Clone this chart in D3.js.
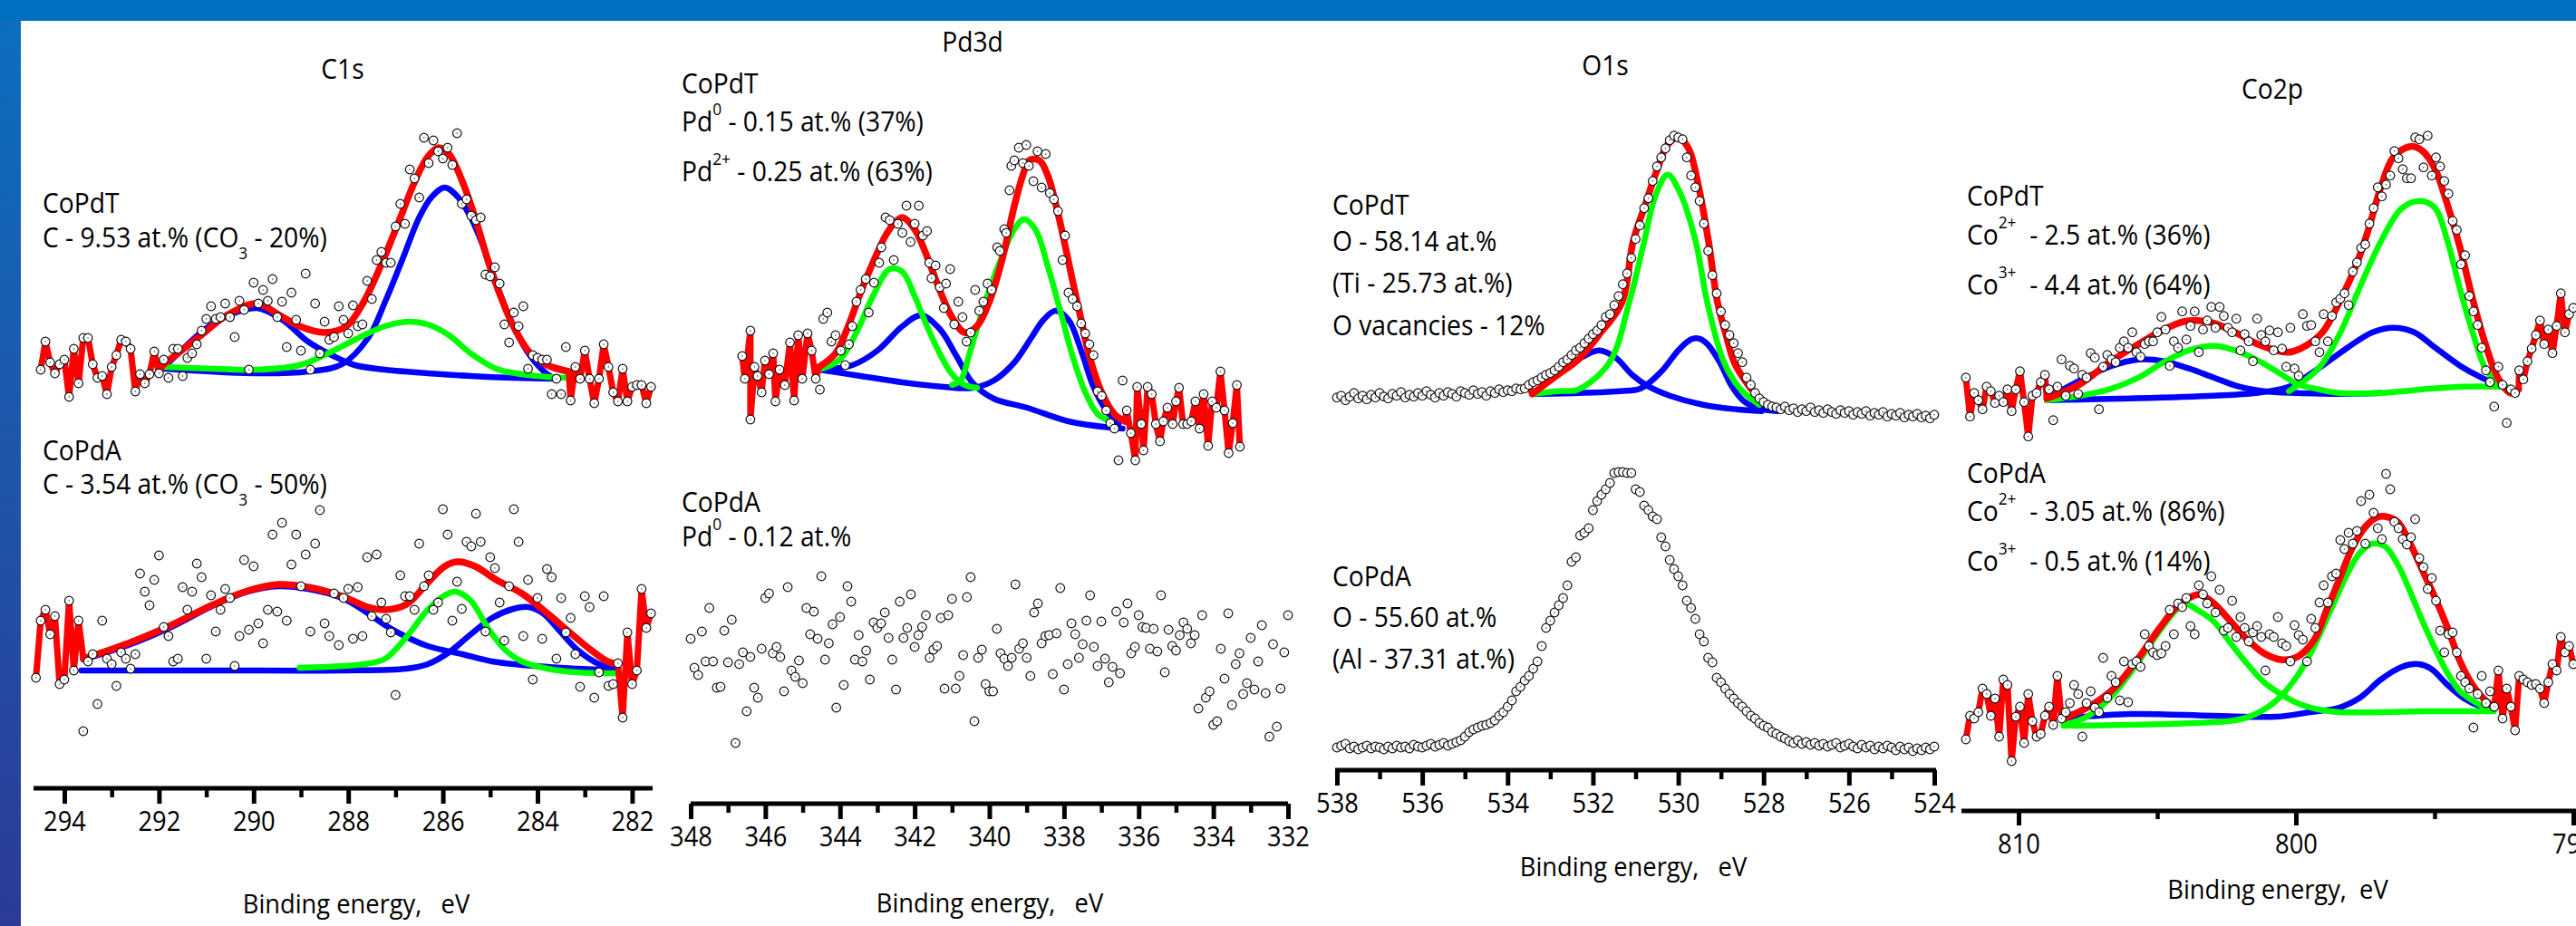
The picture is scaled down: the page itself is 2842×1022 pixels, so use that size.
<!DOCTYPE html>
<html>
<head>
<meta charset="utf-8">
<script src="https://cdn.jsdelivr.net/npm/d3@7"></script>
<style>
  body { margin: 0; background: #fff; }
  svg { display: block; }
  text { font-family: 'Open Sans', sans-serif; white-space: pre; fill: #000; }
</style>
</head>
<body>
<script>
// ---------------- data (binding energy in eV, intensity in arbitrary units) ----------------

// C1s, CoPdT
var c1sT_E = d3.range(294.5, 281.55, -0.1);
var c1sT_I = [32,63,40,28,38,43,2,55,17,67, 67,38,23,25,5,35,48,65,63,55, 8,27,17,27,52,28,43,23,55,55,
  25,45,50,60,75,88,102,88,90,105, 90,68,108,98,32,128,105,120,108,132, 90,107,57,117,87,53,138,32,105,50,
  85,65,68,102,87,72,103,80,82,130, 110,153,162,150,150,190,215,193,253,243, 222,288,260,285,273,265,277,258,293,215,
  220,202,197,200,137,135,145,127,82,62, 95,80,102,33,48,45,43,43,5,22, 5,57,-2,35,22,53,22,-5,22,60,
  35,7,-3,33,-3,13,15,15,-5,13];
var c1sT_fit = [[291.92,37],[291.11,70],[290.57,92],[289.93,105],[289.48,93],[289.03,80],[288.49,73],[288.04,80],[287.67,107],[287.31,147],[286.95,193],[286.59,240],[286.32,267],[286.09,277],[285.87,270],[285.59,240],[285.32,200],[285.05,153],[284.78,113],[284.51,80],[284.15,50],[283.79,37],[283.34,30]];
var c1sT_blue1 = [[291.88,35],[291.02,77],[290.48,93],[289.93,100],[289.39,87],[288.85,63],[288.31,47],[287.86,37],[287.22,32],[286.32,28],[285.41,25],[284.51,23],[283.61,22]];
var c1sT_blue2 = [[291.88,33],[289.93,28],[288.85,30],[288.13,38],[287.58,67],[287.22,107],[286.86,153],[286.50,200],[286.23,223],[285.96,233],[285.69,223],[285.41,200],[285.14,167],[284.87,127],[284.51,80],[284.15,47],[283.79,27],[283.61,22]];
var c1sT_green = [[291.88,35],[290.84,33],[289.93,32],[289.03,37],[288.31,53],[287.67,70],[287.22,80],[286.73,85],[286.32,82],[285.87,70],[285.41,50],[284.87,33],[284.33,27],[283.79,24],[283.34,23]];

// C1s, CoPdA
var c1sA_E = d3.range(294.6, 281.55, -0.1);
var c1sA_I = [22,85,97,70,90,15,20,107,30,85, -37,40,48,-7,85,43,37,13,50,43, 32,48,137,117,102,130,157,78,68,40,
  43,122,97,117,148,133,43,113,73,97, 120,110,35,68,152,75,145,82,60,97, 180,95,193,85,147,180,123,158,73,170,
  207,82,68,115,58,110,120,65,122,68, 155,90,158,105,87,72,3,135,112,112, 97,170,123,135,97,105,208,180,85,128,
  98,172,167,203,172,73,155,143,105,63, 123,208,172,68,130,20,110,65,142,133, 43,110,72,88,48,12,112,100,0,28,
  112,13,15,38,-22,72,15,30,120,77, 93];
var c1sA_fit = [[293.60,43],[292.65,60],[291.74,80],[290.84,103],[290.12,118],[289.48,125],[288.85,122],[288.13,112],[287.58,100],[287.22,97],[286.77,103],[286.32,127],[285.96,145],[285.69,150],[285.32,145],[284.87,130],[284.33,115],[283.79,93],[283.34,73],[282.88,53],[282.52,40],[282.30,37]];
var c1sA_blue1 = [[293.60,42],[292.65,58],[291.74,78],[290.84,102],[290.12,117],[289.48,123],[288.85,120],[288.13,110],[287.58,93],[287.22,80],[286.77,67],[286.32,57],[285.59,48],[284.96,40],[284.06,35],[283.16,32],[282.34,30]];
var c1sA_blue2 = [[293.64,30],[290.84,30],[288.13,30],[286.77,32],[286.32,37],[285.87,50],[285.41,70],[284.96,88],[284.51,98],[284.19,100],[283.88,93],[283.52,73],[283.16,53],[282.70,37],[282.34,32]];
var c1sA_green = [[289.03,33],[287.67,37],[287.22,43],[286.77,67],[286.32,97],[285.96,113],[285.73,117],[285.41,107],[285.05,77],[284.69,53],[284.33,40],[283.79,32],[283.16,28],[282.34,27]];

// Pd3d, CoPdT
var pdT_E = [346.62,346.55,346.40,346.40,346.29,346.21,346.10,346.01,345.90,345.79, 345.73,345.62,345.48,345.34,345.23,345.12,345.01,344.87,344.76,344.65,
  344.54,344.45,344.34,344.23,344.12,343.98,343.86,343.76,343.67,343.56, 343.45,343.31,343.23,343.09,342.95,342.89,342.78,342.67,342.56,342.45,
  342.33,342.22,342.11,342.00,341.89,341.78,341.67,341.61,341.55,341.44, 341.33,341.22,341.16,341.05,340.94,340.83,340.72,340.61,340.50,340.38,
  340.27,340.16,340.05,339.94,339.79,339.72,339.60,339.55,339.46,339.41, 339.33,339.21,339.10,339.01,338.94,338.82,338.71,338.60,338.49,338.38,
  338.27,338.16,338.04,337.97,337.88,337.77,337.65,337.54,337.43,337.32, 337.21,337.10,336.99,336.87,336.76,336.65,336.54,336.43,336.32,336.21,
  336.09,336.04,335.93,335.87,335.76,335.65,335.54,335.43,335.34,335.23, 335.09,335.00,334.92,334.81,334.70,334.59,334.48,334.37,334.26,334.14,
  334.03,333.92,333.81,333.70,333.59,333.48,333.37,333.29];
var pdT_I = [87,62,115,17,75,65,47,82,67,90, 37,72,55,102,38,110,62,112,93,62, 50,128,135,103,110,93,77,100,120,147,
  160,172,135,168,190,207,240,237,193,233, 223,253,213,233,253,220,225,190,173,187, 163,140,167,183,122,147,130,103,113,160,
  137,147,167,160,207,203,227,223,270,297, 303,317,300,320,297,280,313,273,310,267, 260,247,193,220,157,150,142,123,112,100,
  88,48,43,27,13,7,-28,60,27,2, -28,53,12,-17,53,45,12,-7,15,30, 12,37,52,12,12,15,37,7,45,-12,
  37,30,70,27,-20,13,55,-13];
var pdT_fit = [[344.56,75],[344.12,90],[343.78,120],[343.45,157],[343.12,190],[342.78,220],[342.56,233],[342.33,240],[342.00,227],[341.67,197],[341.33,160],[341.00,130],[340.66,113],[340.33,120],[340.00,147],[339.66,193],[339.33,253],[339.10,287],[338.94,303],[338.66,303],[338.44,287],[338.21,253],[337.99,213],[337.77,170],[337.54,127],[337.32,87],[336.99,47],[336.65,23],[336.37,15]];
var pdT_green1 = [[344.56,72],[344.01,83],[343.56,113],[343.12,153],[342.67,183],[342.33,180],[342.00,153],[341.67,120],[341.33,90],[341.00,67],[340.66,55],[340.33,52]];
var pdT_green2 = [[341.00,55],[340.77,60],[340.55,87],[340.11,147],[339.66,197],[339.33,227],[339.07,238],[338.77,227],[338.44,187],[338.10,137],[337.77,87],[337.43,47],[337.10,23],[336.76,15]];
var pdT_blue1 = [[344.56,72],[343.67,77],[343.00,93],[342.33,120],[341.83,132],[341.33,117],[340.88,87],[340.44,57],[339.88,40],[338.99,30],[337.88,15],[336.76,8],[336.43,7]];
var pdT_blue2 = [[344.56,72],[343.45,65],[342.33,58],[341.22,53],[340.44,52],[339.88,60],[339.33,80],[338.88,107],[338.55,127],[338.23,137],[337.88,127],[337.54,93],[337.21,53],[336.87,27],[336.54,12]];

// Pd3d, CoPdA
var pdA_E = d3.range(348, 331.95, -0.1);
var pdA_I = [128,96,88,136,103,162,103,74,75, 137,102,149,13,100,113,48,108,74,63, 117,173,178,112,119,108,70,185,93,86,
  104,79,162,133,158,128,197,105,123,144, 52,152,77,186,169,105,132,103,115,83, 146,140,145,157,129,105,72,169,129,140,
  177,119,132,141,154,107,116,120,151,73, 154,172,73,87,110,174,196,37,107,116, 78,70,70,139,112,106,98,107,188,117,
  123,107,87,157,167,123,131,132,89,134, 184,72,100,145,133,107,122,148,176,119, 98,147,106,80,97,158,90,146,167,112,
  119,154,141,140,117,139,114,176,91,138, 120,115,132,146,139,123,132,51,154,63, 70,33,37,117,84,156,55,100,112,67,
  79,129,72,103,143,68,20,122,31,73, 113,154];

// O1s, CoPdT
var o1sT_E = d3.range(538, 523.95, -0.1);
var o1sT_I = [28,30,25,29,33,27,30,26,31,28, 33,29,27,32,30,34,28,31,29,33, 30,35,31,28,33,30,34,32,29,35,
  33,31,36,32,34,30,35,33,37,34, 36,35,38,
  37,38,42,45,47,50,53,55,58,62, 67,70,75,80,83,88,93,98,102,108, 117,120,130,140,153,165,182,203,218,237,
  248,267,283,293,303,312,317,315,313,293, 273,260,245,220,190,163,143,123,108,97, 88,77,67,50,42,33,27,23,20,18,
  17,15,18,14,16,12,15,13,17,12, 14,11,15,12,10,14,11,13,9,12, 10,13,8,11,9,12,7,10,8,11, 6,9,7,10,6,8,5,9];
var o1sT_fit = [[533.42,32],[532.83,53],[532.34,70],[531.86,97],[531.32,133],[531.06,200],[530.78,240],[530.49,280],[530.25,307],[530.00,315],[529.76,303],[529.52,260],[529.29,200],[529.08,133],[528.88,97],[528.69,67],[528.44,47],[528.15,30],[527.86,20],[527.57,16]];
var o1sT_green = [[533.42,32],[532.83,35],[532.34,37],[531.61,67],[531.15,133],[530.80,200],[530.54,250],[530.25,274],[529.95,253],[529.59,200],[529.32,133],[528.93,67],[528.54,37],[528.10,20]];
var o1sT_blue1 = [[533.42,32],[532.83,53],[532.34,70],[531.86,80],[531.47,72],[531.08,53],[530.69,40],[530.20,30],[529.42,20],[528.64,15],[528.05,13]];
var o1sT_blue2 = [[533.42,32],[532.34,33],[531.37,35],[530.88,38],[530.39,57],[530.00,80],[529.71,92],[529.52,93],[529.32,87],[529.03,67],[528.74,40],[528.44,23],[528.05,15],[527.67,13]];

// O1s, CoPdA
var o1sA_E = d3.range(538, 523.95, -0.1);
var o1sA_I = [8,10,12,7,9,6,8,10,7,9, 8,6,9,7,10,8,9,7,11,9, 8,10,12,9,11,13,10,12,14,16,
  20,25,28,30,32,33,35,38,43,47, 53,60,70,75,82,87,95,103,120,140, 148,157,165,173,187,213,218,242,245,250,
  270,280,287,293,300,311,312,312,311,311, 293,290,275,270,263,260,240,230,215,205, 197,187,170,162,150,133,125,107,102,85,
  80,73,67,62,57,53,48,43,40,35, 32,30,25,23,20,18,
  15,13,16,12,14,11,13,10,12,9, 11,13,8,10,12,9,7,11,8,10, 6,9,7,10,8,5,9,6,8,4, 7,5,8,6,9];

// Co2p, CoPdT
var coT_E = d3.range(811.9, 789.95, -0.15);
var coT_I = [50,7,33,25,15,40,35,22,30,23, 37,13,37,57,23,-15,30,33,45,53, 37,3,40,70,30,63,60,32,53,50,
  77,72,15,62,75,70,67,83,90,83, 100,78,73,87,90,90,100,117,103,63, 90,83,123,92,107,123,78,103,113,128,
  105,128,118,105,100,115,80,98,90,68, 115,97,90,102,80,100,82,62,105,60, 52,120,107,108,90,78,120,90,118,133,
  137,143,130,167,177,193,197,220,237,260, 250,263,273,300,292,280,270,270,315,313, 282,317,273,293,283,267,253,223,213,175,
  185,140,123,108,83,58,45,18,62,42, 0,37,33,58,48,68,82,97,113,87, 103,77,107,143,100,120,127];
var coT_fit = [[808.98,27],[807.77,43],[806.72,67],[805.67,87],[804.76,103],[804.01,112],[803.56,113],[802.96,110],[802.20,100],[801.45,88],[800.70,80],[800.25,78],[799.65,85],[799.04,100],[798.44,133],[797.84,173],[797.39,213],[796.94,260],[796.49,293],[795.88,305],[795.43,300],[794.98,280],[794.53,240],[794.08,193],[793.63,137],[793.17,87],[792.72,50],[792.27,33],[791.97,37]];
var coT_green1 = [[808.98,25],[807.77,30],[806.72,37],[805.67,50],[804.76,67],[803.86,80],[802.96,85],[802.20,80],[801.45,70],[800.70,57],[799.95,43],[799.19,37],[798.44,33],[796.94,33],[795.43,37],[793.93,40],[792.42,40]];
var coT_green2 = [[800.25,35],[799.19,60],[798.44,97],[797.69,150],[796.94,200],[796.18,237],[795.51,245],[794.98,237],[794.53,200],[794.08,147],[793.63,100],[793.17,60],[792.72,43],[792.42,40]];
var coT_blue1 = [[808.98,27],[807.77,47],[806.72,62],[805.67,70],[804.76,68],[803.86,60],[802.96,50],[802.05,40],[801.15,35],[799.95,33],[798.44,32],[796.94,33]];
var coT_blue2 = [[808.98,25],[805.97,27],[802.96,30],[801.45,33],[800.25,40],[799.19,60],[798.14,83],[797.24,100],[796.49,105],[795.73,100],[794.98,83],[794.08,63],[793.32,50],[792.57,40]];

// Co2p, CoPdA
var coA_E = d3.range(811.9, 789.95, -0.15);
var coA_I = [17,43,40,47,73,67,43,62,20,83, 77,-7,42,53,13,67,37,20,23,43, 53,33,87,40,47,57,77,67,20,57,
  70,52,47,107,63,87,80,60,103,58, 100,103,97,133,120,113,110,112,120,160, 133,167,163,173,142,133,187,177,167,197,
  157,182,137,140,170,130,152,140,125,135, 142,130,93,133,130,152,123,120,103,143, 132,127,103,150,140,168,187,168,197,200,
  237,227,245,233,247,280,233,287,267,250, 238,310,293,257,250,238,232,240,260,217, 207,183,195,170,137,113,133,135,113,87,
  80,73,30,67,87,57,70,53,93,40, 73,53,27,87,83,80,77,78,73,57, 80,100,93,130,113,120,100];
var coA_fit = [[808.37,40],[807.47,53],[806.57,73],[805.67,107],[804.91,140],[804.31,163],[803.86,173],[803.48,177],[802.96,167],[802.35,147],[801.75,127],[801.15,112],[800.55,105],[799.95,108],[799.34,127],[798.89,160],[798.44,193],[797.99,227],[797.54,250],[797.09,262],[796.79,263],[796.33,257],[795.88,233],[795.43,203],[794.98,173],[794.53,140],[794.08,103],[793.63,77],[793.17,60],[792.87,53]];
var coA_green1 = [[808.37,33],[807.47,43],[806.57,67],[805.67,103],[804.91,137],[804.31,160],[804.01,167],[803.56,160],[802.96,147],[802.35,123],[801.75,100],[801.15,80],[800.55,67],[799.95,57],[799.19,50],[798.44,47],[796.94,47],[795.43,48],[793.93,48],[792.87,48]];
var coA_green2 = [[808.37,32],[805.97,33],[803.71,35],[802.20,38],[801.45,45],[800.70,60],[799.95,87],[799.34,120],[798.74,160],[798.14,200],[797.69,223],[797.24,233],[796.79,230],[796.33,210],[795.88,180],[795.43,147],[794.98,117],[794.53,90],[794.08,70],[793.48,57],[792.87,48]];
var coA_blue = [[808.37,40],[805.97,45],[802.96,43],[800.70,42],[799.49,47],[798.44,52],[797.69,63],[796.94,83],[796.18,97],[795.58,100],[795.13,95],[794.53,77],[793.93,62],[793.32,53],[792.87,50]];

// axis ticks
var c1sTicks = [294, 292, 290, 288, 286, 284, 282];
var c1sMinor = [293, 291, 289, 287, 285, 283];
var pdTicks = [348, 346, 344, 342, 340, 338, 336, 334, 332];
var pdMinor = [347, 345, 343, 341, 339, 337, 335, 333];
var o1sTicks = [538, 536, 534, 532, 530, 528, 526, 524];
var o1sMinor = [537, 535, 533, 531, 529, 527, 525];
var coTicks = [810, 800, 790];
var coMinor = [805, 795];

// ---------------- drawing ----------------
var W = 2842, H = 1022;
var RED = '#ff0000', BLUE = '#0000ff', GREEN = '#00ff00';
var SX = 0.91; // narrow lettering like the original

var svg = d3.select('body').append('svg').attr('width', W).attr('height', H);

var defs = svg.append('defs');
var grad = defs.append('linearGradient').attr('id', 'side').attr('x1', 0).attr('y1', 0).attr('x2', 0).attr('y2', 1);
grad.append('stop').attr('offset', '0%').attr('stop-color', '#0b6fc0');
grad.append('stop').attr('offset', '45%').attr('stop-color', '#1d58ad');
grad.append('stop').attr('offset', '100%').attr('stop-color', '#2c3b97');

svg.append('rect').attr('width', W).attr('height', H).attr('fill', '#ffffff');
svg.append('rect').attr('x', 0).attr('y', 0).attr('width', 23).attr('height', H).attr('fill', 'url(#side)');
svg.append('rect').attr('x', 0).attr('y', 0).attr('width', W).attr('height', 23).attr('fill', '#0070c0');

function drawAxis(x, y0, x0, x1, major, minor, majorLen, minorLen) {
  svg.append('line').attr('x1', x0).attr('x2', x1).attr('y1', y0).attr('y2', y0)
    .attr('stroke', '#000').attr('stroke-width', 5);
  var gMinor = svg.append('g').attr('transform', 'translate(0,' + y0 + ')')
    .call(d3.axisBottom(x).tickValues(minor).tickSize(minorLen).tickSizeOuter(0).tickFormat(''));
  gMinor.select('.domain').remove();
  gMinor.selectAll('.tick line').attr('stroke', '#000').attr('stroke-width', 4.5);
  var g = svg.append('g').attr('transform', 'translate(0,' + y0 + ')')
    .call(d3.axisBottom(x).tickValues(major).tickSize(majorLen).tickSizeOuter(0).tickFormat(d3.format('d')));
  g.select('.domain').remove();
  g.selectAll('.tick line').attr('stroke', '#000').attr('stroke-width', 5);
  g.selectAll('.tick text').attr('y', null).attr('dy', null)
    .attr('transform', 'translate(0,47) scale(0.88,1)')
    .attr('font-size', 31).attr('fill', '#000');
}

function spectrum(x, yBase, E, I, blues, greens, fit) {
  var y = d3.scaleLinear().domain([0, 400]).range([yBase, yBase - 400]);
  var smooth = d3.line().x(function (d) { return x(d[0]); }).y(function (d) { return y(d[1]); })
    .curve(d3.curveCatmullRom.alpha(0.5));
  var raw = d3.line().x(function (d) { return x(d[0]); }).y(function (d) { return y(d[1]); });
  var pts = E.map(function (e, i) { return [e, I[i]]; });
  var g = svg.append('g').attr('fill', 'none').attr('stroke-linejoin', 'round').attr('stroke-linecap', 'round');
  blues.forEach(function (c) { g.append('path').attr('d', smooth(c)).attr('stroke', BLUE).attr('stroke-width', 6.5); });
  greens.forEach(function (c) { g.append('path').attr('d', smooth(c)).attr('stroke', GREEN).attr('stroke-width', 6.5); });
  if (fit) {
    var left = pts.filter(function (p) { return p[0] > fit[0][0]; }).concat([fit[0]]);
    var right = [fit[fit.length - 1]].concat(pts.filter(function (p) { return p[0] < fit[fit.length - 1][0]; }));
    if (left.length > 1) g.append('path').attr('d', raw(left)).attr('stroke', RED).attr('stroke-width', 7);
    if (right.length > 1) g.append('path').attr('d', raw(right)).attr('stroke', RED).attr('stroke-width', 7);
    g.append('path').attr('d', smooth(fit)).attr('stroke', RED).attr('stroke-width', 7.5);
  }
  var m = svg.append('g');
  m.selectAll('circle.pt').data(pts).enter().append('circle').attr('class', 'pt')
    .attr('cx', function (d) { return x(d[0]); }).attr('cy', function (d) { return y(d[1]); })
    .attr('r', 4.8).attr('fill', '#fff').attr('stroke', '#111').attr('stroke-width', 1.2);
  m.selectAll('circle.dot').data(pts).enter().append('circle').attr('class', 'dot')
    .attr('cx', function (d) { return x(d[0]); }).attr('cy', function (d) { return y(d[1]); })
    .attr('r', 0.8).attr('fill', '#444');
}

function label(x, y, parts, size, anchor) {
  var t = svg.append('text').attr('transform', 'translate(' + x + ',' + y + ') scale(' + SX + ',1)')
    .attr('font-size', size || 31).attr('text-anchor', anchor || 'start');
  var cur = 0;
  parts.forEach(function (p) {
    var want = p[1] === 'sup' ? -18 : (p[1] === 'sub' ? 13 : 0);
    var ts = t.append('tspan').attr('dy', want - cur).text(p[0]);
    if (p[1]) ts.attr('font-size', 19);
    cur = want;
  });
}

// --- C1s ---
var xC = d3.scaleLinear().domain([294, 282]).range([71, 697.4]);
spectrum(xC, 440, c1sT_E, c1sT_I, [c1sT_blue1, c1sT_blue2], [c1sT_green], c1sT_fit);
spectrum(xC, 770, c1sA_E, c1sA_I, [c1sA_blue1, c1sA_blue2], [c1sA_green], c1sA_fit);
drawAxis(xC, 870, 37, 720, c1sTicks, c1sMinor, 17, 10);
label(378, 87, [['C1s']], 31, 'middle');
label(47, 235, [['CoPdT']]);
label(47, 273, [['C - 9.53 at.% (CO'], ['3', 'sub'], [' - 20%)']]);
label(47, 508, [['CoPdA']]);
label(47, 545, [['C - 3.54 at.% (CO'], ['3', 'sub'], [' - 50%)']]);
label(393, 1008, [['Binding energy,   eV']], 30, 'middle');

// --- Pd3d ---
var xP = d3.scaleLinear().domain([348, 332]).range([762, 1421]);
spectrum(xP, 480, pdT_E, pdT_I, [pdT_blue1, pdT_blue2], [pdT_green1, pdT_green2], pdT_fit);
spectrum(xP, 833, pdA_E, pdA_I, [], [], null);
drawAxis(xP, 887, 762, 1421, pdTicks, pdMinor, 17, 10);
label(1073, 57, [['Pd3d']], 31, 'middle');
label(752, 103, [['CoPdT']]);
label(752, 145, [['Pd'], ['0', 'sup'], [' - 0.15 at.% (37%)']]);
label(752, 200, [['Pd'], ['2+', 'sup'], [' - 0.25 at.% (63%)']]);
label(752, 565, [['CoPdA']]);
label(752, 603, [['Pd'], ['0', 'sup'], [' - 0.12 at.%']]);
label(1092, 1007, [['Binding energy,   eV']], 30, 'middle');

// --- O1s ---
var xO = d3.scaleLinear().domain([538, 524]).range([1475, 2134]);
spectrum(xO, 466.7, o1sT_E, o1sT_I, [o1sT_blue1, o1sT_blue2], [o1sT_green], o1sT_fit);
spectrum(xO, 833, o1sA_E, o1sA_I, [], [], null);
drawAxis(xO, 850, 1473, 2136, o1sTicks, o1sMinor, 17, 10);
label(1771, 83, [['O1s']], 31, 'middle');
label(1470, 237, [['CoPdT']]);
label(1470, 277, [['O - 58.14 at.%']]);
label(1470, 323, [['(Ti - 25.73 at.%)']]);
label(1470, 370, [['O vacancies - 12%']]);
label(1470, 647, [['CoPdA']]);
label(1470, 692, [['O - 55.60 at.%']]);
label(1470, 738, [['(Al - 37.31 at.%)']]);
label(1802, 967, [['Binding energy,   eV']], 30, 'middle');

// --- Co2p ---
var xK = d3.scaleLinear().domain([810, 790]).range([2227, 2839]);
spectrum(xK, 466.7, coT_E, coT_I, [coT_blue1, coT_blue2], [coT_green1, coT_green2], coT_fit);
spectrum(xK, 833, coA_E, coA_I, [coA_blue], [coA_green1, coA_green2], coA_fit);
drawAxis(xK, 895, 2164, 2842, coTicks, coMinor, 16, 9);
label(2507, 109, [['Co2p']], 31, 'middle');
label(2170, 227, [['CoPdT']]);
label(2170, 270, [['Co'], ['2+', 'sup'], ['  - 2.5 at.% (36%)']]);
label(2170, 325, [['Co'], ['3+', 'sup'], ['  - 4.4 at.% (64%)']]);
label(2170, 533, [['CoPdA']]);
label(2170, 575, [['Co'], ['2+', 'sup'], ['  - 3.05 at.% (86%)']]);
label(2170, 630, [['Co'], ['3+', 'sup'], ['  - 0.5 at.% (14%)']]);
label(2513, 992, [['Binding energy,  eV']], 30, 'middle');
</script>
</body>
</html>
